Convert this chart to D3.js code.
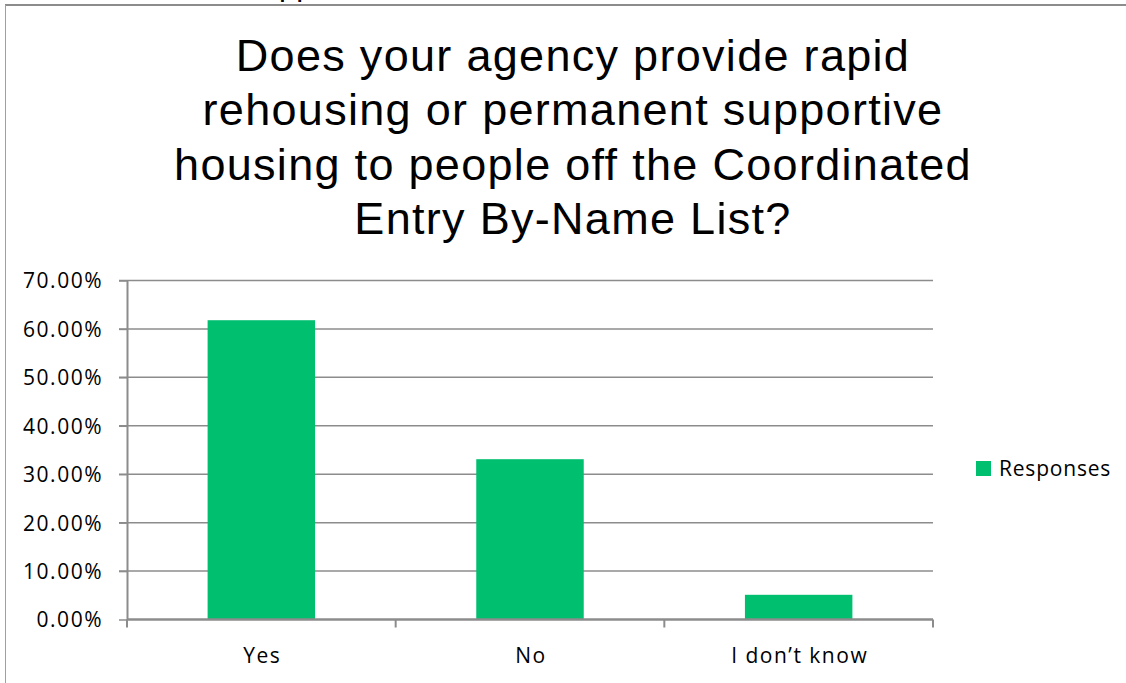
<!DOCTYPE html>
<html>
<head>
<meta charset="utf-8">
<script src="https://cdn.jsdelivr.net/npm/d3@7"></script>
<style>
  html, body { margin: 0; padding: 0; background: #fff; }
  svg { display: block; }
</style>
</head>
<body>
<svg id="chart" width="1126" height="683"></svg>
<script>
const titleLines = [
  "Does your agency provide rapid",
  "rehousing or permanent supportive",
  "housing to people off the Coordinated",
  "Entry By-Name List?"
];
const categories = ["Yes", "No", "I don\u2019t know"];
const seriesName = "Responses";
const responses = [0.618, 0.331, 0.051];
const yTicks = [0, 0.1, 0.2, 0.3, 0.4, 0.5, 0.6, 0.7];

const svg = d3.select("#chart");
const W = 1126, H = 683;
const barColor = "#00bf6f";
const gridColor = "#8c8c8c";
const labelFont = "'Open Sans', sans-serif";

// frame
svg.append("line").attr("x1", 5).attr("x2", W).attr("y1", 5).attr("y2", 5)
  .attr("stroke", "#8c8c8c").attr("stroke-width", 2);
svg.append("line").attr("x1", 5.5).attr("x2", 5.5).attr("y1", 5).attr("y2", H)
  .attr("stroke", "#a0a0a0").attr("stroke-width", 1);

// cut-off text above frame (only descenders visible in the reference)
svg.append("text").attr("x", 279).attr("y", -5)
  .attr("font-family", "'Liberation Sans', Arial, sans-serif")
  .attr("font-size", 31).attr("fill", "#000").text("pp");

// title
const title = svg.append("text")
  .attr("font-family", "'Liberation Sans', Arial, sans-serif")
  .attr("font-size", 45).attr("letter-spacing", 1.3)
  .attr("fill", "#000").attr("text-anchor", "middle");
titleLines.forEach((t, i) => {
  title.append("tspan").attr("x", 573).attr("y", 71 + i * 54.4).text(t);
});

// scales
const plotLeft = 127, plotRight = 933, plotTop = 280.5, plotBottom = 619.5;
const x = d3.scaleBand().domain(categories).range([plotLeft, plotRight])
  .paddingInner(0.6).paddingOuter(0.3);
const xb = d3.scaleBand().domain(categories).range([plotLeft, plotRight]).padding(0);
const y = d3.scaleLinear().domain([0, 0.7]).range([plotBottom, plotTop]);

// gridlines
svg.append("g").selectAll("line").data(yTicks.filter(d => d > 0)).join("line")
  .attr("x1", plotLeft - 8).attr("x2", plotRight)
  .attr("y1", d => y(d)).attr("y2", d => y(d))
  .attr("stroke", gridColor).attr("stroke-width", 1.5);

// bars
svg.append("g").selectAll("rect").data(responses).join("rect")
  .attr("x", (d, i) => x(categories[i]))
  .attr("width", x.bandwidth())
  .attr("y", d => y(d))
  .attr("height", d => y(0) - y(d))
  .attr("fill", barColor);

// y axis
const yAxis = svg.append("g").attr("transform", `translate(${plotLeft},0)`)
  .call(d3.axisLeft(y).tickValues(yTicks).tickSize(8).tickSizeOuter(0)
    .tickFormat(d => (d * 100).toFixed(2) + "%"));
yAxis.select(".domain").attr("stroke", gridColor).attr("stroke-width", 2);
yAxis.selectAll(".tick line").attr("stroke", gridColor).attr("stroke-width", 1.5);
yAxis.selectAll(".tick text")
  .attr("font-family", labelFont).attr("font-size", 21)
  .attr("letter-spacing", 1.5).attr("fill", "#000")
  .attr("x", -24).attr("dy", "0.35em");

// x axis
const xAxis = svg.append("g").attr("transform", `translate(0,${plotBottom})`);
xAxis.append("line").attr("x1", plotLeft).attr("x2", plotRight).attr("y1", 0).attr("y2", 0)
  .attr("stroke", gridColor).attr("stroke-width", 2.5);
const bounds = categories.map(c => xb(c)).concat([plotRight]);
xAxis.selectAll("line.tk").data(bounds).join("line").attr("class", "tk")
  .attr("x1", d => d).attr("x2", d => d).attr("y1", 0).attr("y2", 8)
  .attr("stroke", gridColor).attr("stroke-width", 2);
xAxis.selectAll("text").data(categories).join("text")
  .attr("x", d => xb(d) + xb.bandwidth() / 2 + 1)
  .attr("y", 43)
  .attr("text-anchor", "middle")
  .attr("font-family", labelFont).attr("font-size", 21)
  .attr("letter-spacing", 1.5).attr("fill", "#000")
  .text(d => d);

// legend
const lg = svg.append("g").attr("transform", "translate(976,461)");
lg.append("rect").attr("width", 15).attr("height", 15).attr("fill", barColor);
lg.append("text").attr("x", 23).attr("y", 7.5).attr("dy", "0.35em")
  .attr("font-family", labelFont).attr("font-size", 21)
  .attr("letter-spacing", 0.8).attr("fill", "#000").text(seriesName);
</script>
</body>
</html>
